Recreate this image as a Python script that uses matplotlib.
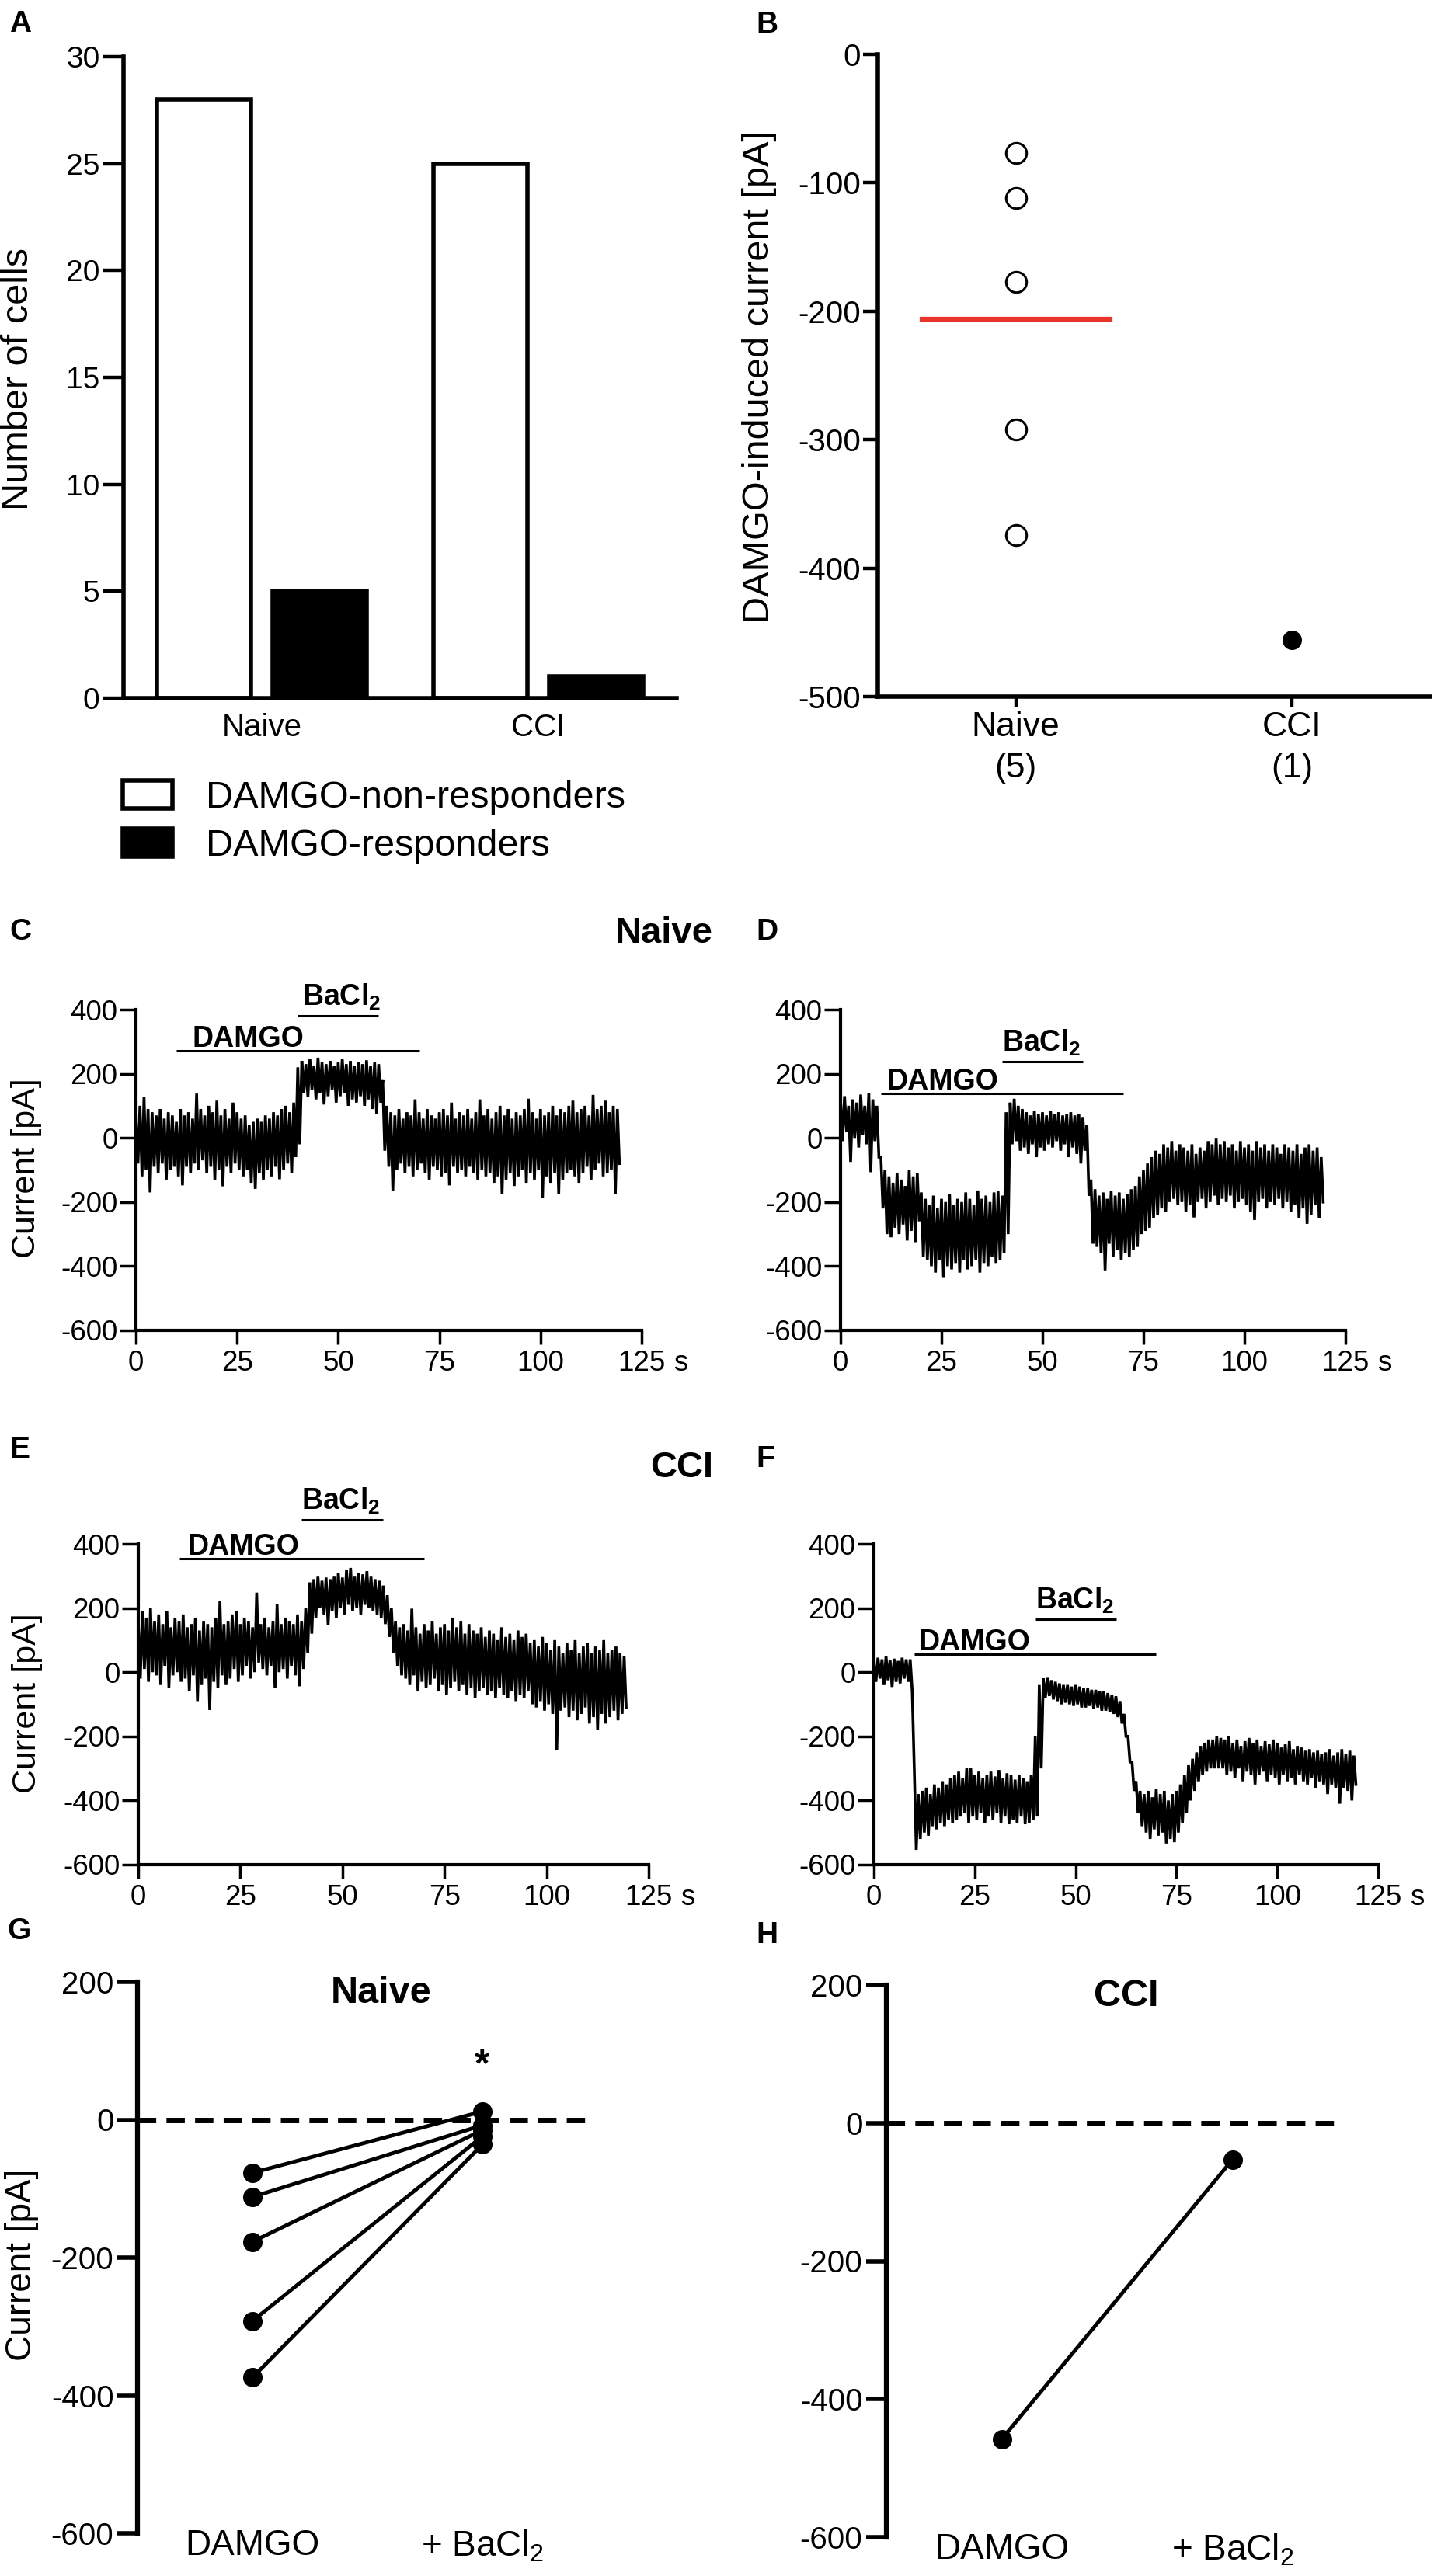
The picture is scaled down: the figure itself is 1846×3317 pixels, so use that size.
import matplotlib
matplotlib.use('Agg')
import matplotlib.pyplot as plt
import numpy as np
from matplotlib.patches import Patch

plt.rcParams['font.family'] = ['Liberation Sans', 'DejaVu Sans']
plt.rcParams['mathtext.fontset'] = 'custom'
plt.rcParams['mathtext.rm'] = 'Liberation Sans'
plt.rcParams['mathtext.bf'] = 'Liberation Sans:bold'
plt.rcParams['mathtext.it'] = 'Liberation Sans:italic'
plt.rcParams['axes.unicode_minus'] = False

# ---------------- DATA ----------------
# Panel A
groups_A = ['Naive', 'CCI']
non_responders = [28, 25]
responders = [5, 1]
legend_labels = ['DAMGO-non-responders', 'DAMGO-responders']

# Panel B
groups_B = ['Naive\n(5)', 'CCI\n(1)']
naive_damgo = [-77, -112, -177, -292, -374]
cci_damgo = [-456]

# Panels G / H
conditions = ['DAMGO', '+ BaCl$_2$']
naive_pair_damgo = [-77, -112, -177, -292, -374]
naive_pair_bacl = [12, -8, -15, -24, -36]
cci_pair_damgo = [-458]
cci_pair_bacl = [-53]

# Traces (per-second upper / lower excursions of the current, pA)
C_hi = [60, 100, 128, 90, 80, 70, 90, 60, 80, 70,
        50, 90, 70, 80, 60, 138, 90, 70, 100, 80,
        116, 70, 90, 60, 110, 80, 60, 70, 40, 50,
        60, 50, 70, 60, 80, 70, 90, 100, 80, 110,
        220, 240, 230, 245, 225, 250, 235, 230, 240, 225,
        235, 246, 230, 240, 225, 235, 230, 242, 225, 235,
        230, 180, 100, 80, 70, 90, 60, 80, 70, 120,
        80, 60, 90, 70, 60, 80, 90, 70, 110, 60,
        80, 70, 90, 60, 80, 120, 70, 90, 60, 80,
        100, 70, 90, 60, 80, 70, 90, 122, 80, 60,
        90, 70, 80, 100, 70, 90, 80, 100, 116, 80,
        90, 100, 70, 134, 90, 100, 116, 80, 100, 90]
C_lo = [-80, -120, -100, -170, -90, -110, -80, -130, -100, -90,
        -120, -148, -90, -110, -80, -100, -70, -110, -90, -130,
        -100, -151, -90, -110, -80, -100, -120, -100, -140, -159,
        -110, -130, -100, -120, -90, -129, -100, -80, -110, -60,
        -20, 140, 128, 150, 120, 140, 104, 130, 150, 110,
        130, 140, 100, 120, 110, 130, 100, 120, 90, 75,
        110, -40, -90, -164, -100, -80, -110, -90, -120, -100,
        -80, -110, -130, -90, -100, -120, -110, -148, -90, -110,
        -100, -120, -90, -110, -130, -100, -120, -110, -140, -120,
        -175, -130, -110, -150, -120, -100, -140, -110, -130, -100,
        -188, -120, -140, -110, -174, -130, -110, -100, -120, -140,
        -110, -90, -130, -100, -80, -120, -110, -100, -175, -80]

D_hi = [120, 130, 100, 120, 110, 135, 100, 140, 120, 100,
        -60, -100, -120, -140, -110, -130, -150, -100, -120, -110,
        -170, -190, -210, -180, -220, -190, -200, -176, -210, -190,
        -200, -170, -190, -210, -164, -190, -180, -200, -170, -165,
        -180, 80, 110, 122, 100, 90, 80, 70, 85, 75,
        80, 70, 85, 75, 80, 70, 75, 80, 70, 75,
        65, 40, -130, -160, -180, -170, -190, -165, -180, -170,
        -190, -175, -160, -150, -120, -100, -80, -60, -40, -50,
        -20, -30, -10, -40, -20, -30, -40, -20, -50, -30,
        -40, -10, -20, 0, -20, -10, -30, -20, -40, -10,
        -30, -20, -40, -10, -30, -20, -40, -20, -30, -50,
        -20, -30, -40, -20, -50, -30, -20, -40, -30, -60]
D_lo = [-10, 20, -75, 0, -30, 10, -20, -107, -10, -60,
        -220, -300, -310, -280, -300, -270, -320, -290, -325, -260,
        -370, -380, -400, -420, -380, -434, -400, -410, -390, -420,
        -380, -410, -400, -380, -420, -390, -400, -370, -390, -380,
        -360, -300, -20, -10, -40, -30, -50, -20, -60, -30,
        -40, -20, -30, -10, -40, -20, -60, -30, -50, -80,
        -40, -180, -330, -340, -360, -413, -330, -370, -350, -380,
        -360, -370, -350, -340, -300, -290, -280, -250, -240, -220,
        -230, -200, -190, -210, -200, -230, -210, -248, -200, -190,
        -220, -200, -180, -210, -190, -200, -180, -220, -200, -190,
        -210, -230, -256, -200, -190, -220, -200, -210, -190, -220,
        -200, -230, -210, -250, -220, -268, -240, -210, -250, -200]

E_hi = [150, 190, 170, 200, 160, 180, 150, 190, 140, 170,
        160, 180, 140, 150, 170, 130, 160, 150, 140, 170,
        222, 150, 160, 180, 190, 150, 170, 160, 140, 248,
        150, 170, 140, 160, 212, 150, 170, 160, 150, 180,
        160, 200, 280, 290, 300, 285, 295, 290, 300, 310,
        295, 320, 325, 300, 310, 305, 315, 300, 290, 285,
        270, 240, 200, 160, 140, 150, 130, 198, 140, 120,
        150, 130, 160, 120, 140, 150, 130, 170, 140, 160,
        120, 150, 130, 120, 140, 110, 130, 120, 100, 140,
        110, 120, 100, 130, 110, 120, 90, 100, 80, 110,
        90, 70, 100, 80, 60, 90, 70, 100, 60, 80,
        90, 60, 80, 70, 100, 60, 70, 80, 60, 50]
E_lo = [-20, 10, -30, 0, -10, -40, 20, -48, -10, 0,
        -30, -20, -60, -10, -90, -40, -20, -118, -30, -50,
        -10, -40, -20, 10, -30, -10, 20, -20, 0, 30,
        10, -10, 20, -50, 0, 10, -20, 20, -10, -44,
        10, 60, 120, 170, 200, 180, 148, 190, 170, 200,
        180, 210, 190, 200, 180, 210, 200, 190, 180, 170,
        150, 110, 60, 20, -10, -20, -40, -10, -60, -30,
        -50, -40, -20, -60, -40, -70, -50, -30, -60, -40,
        -70, -50, -80, -60, -50, -70, -60, -80, -50, -70,
        -80, -60, -90, -70, -80, -60, -100, -110, -90, -120,
        -100, -130, -242, -120, -110, -140, -120, -150, -130, -110,
        -160, -140, -179, -130, -160, -140, -120, -150, -130, -110]

F_hi = [30, 45, 40, 50, 38, 42, 35, 45, 40, 40,
        -300, -380, -370, -360, -380, -350, -360, -340, -350, -330,
        -320, -310, -330, -300, -298, -320, -310, -330, -320, -310,
        -325, -305, -330, -315, -320, -335, -320, -330, -340, -320,
        -200, -40, -20, -18, -25, -30, -35, -40, -40, -45,
        -40, -45, -50, -50, -55, -55, -60, -60, -65, -70,
        -75, -90, -130, -200, -280, -340, -370, -380, -370, -390,
        -365, -380, -370, -400, -380, -370, -350, -320, -290, -270,
        -250, -230, -220, -210, -210, -200, -205, -210, -200, -220,
        -210, -230, -215, -205, -220, -210, -230, -215, -225, -210,
        -220, -235, -225, -215, -240, -230, -235, -245, -240, -250,
        -245, -255, -250, -240, -260, -250, -240, -255, -245, -260]
F_lo = [-30, -20, -40, -25, -46, -30, -35, -20, -30, -60,
        -554, -520, -500, -510, -480, -490, -470, -480, -460, -470,
        -460, -450, -440, -470, -450, -460, -440, -470, -450, -460,
        -440, -470, -450, -474, -460, -470, -450, -474, -470, -460,
        -450, -300, -80, -74, -85, -90, -100, -95, -100, -105,
        -100, -110, -110, -105, -115, -110, -120, -120, -125, -130,
        -140, -160, -200, -280, -370, -440, -480, -500, -520, -490,
        -510, -500, -534, -520, -530, -500, -470, -440, -400, -370,
        -340, -320, -310, -300, -300, -300, -300, -320, -310, -330,
        -300, -340, -310, -320, -350, -320, -310, -340, -320, -330,
        -350, -320, -340, -330, -350, -320, -340, -350, -330, -360,
        -340, -350, -380, -350, -360, -410, -360, -370, -400, -350]

damgo_period = [10, 70]
bacl_period = [40, 60]
trace_xticks = [0, 25, 50, 75, 100, 125]
trace_yticks = [-600, -400, -200, 0, 200, 400]

# ---------------- FIGURE ----------------
W, H = 1846, 3317
fig = plt.figure(figsize=(W / 100, H / 100), dpi=100)


def add_ax(l, t, r, b):
    return fig.add_axes([l / W, 1 - b / H, (r - l) / W, (b - t) / H])


def style(ax, lw, ticklen, tickw, fs, pad, bottom=True):
    ax.spines['top'].set_visible(False)
    ax.spines['right'].set_visible(False)
    ax.spines['left'].set_linewidth(lw)
    if bottom:
        ax.spines['bottom'].set_linewidth(lw)
    else:
        ax.spines['bottom'].set_visible(False)
    ax.tick_params(axis='y', direction='out', length=ticklen, width=tickw,
                   labelsize=fs, pad=pad)


def ftext(x, y, s, **kw):
    fig.text(x / W, 1 - y / H, s, **kw)


# panel letters
for letter, (px, py) in {'A': (12, 41), 'B': (973, 42), 'C': (12, 1210),
                         'D': (973, 1210), 'E': (12, 1877), 'F': (973, 1889),
                         'G': (9, 2497), 'H': (973, 2502)}.items():
    ftext(px, py, letter, fontsize=28, fontweight='bold', ha='left', va='baseline')

# ---- Panel A ----
axA = add_ax(159, 73, 871, 899)
xA = np.arange(len(groups_A))
axA.bar(xA - 0.21, non_responders, width=0.34, facecolor='white',
        edgecolor='black', linewidth=4)
axA.bar(xA + 0.21, responders, width=0.34, facecolor='black',
        edgecolor='black', linewidth=4)
axA.set_xlim(-0.5, 1.5)
axA.set_ylim(0, 30)
axA.set_yticks(range(0, 31, 5))
style(axA, 4, 19, 3.2, 28, 3)
axA.set_xticks(xA)
axA.set_xticklabels(groups_A)
axA.tick_params(axis='x', length=0, labelsize=29, pad=14)
ftext(24, 488, 'Number of cells', rotation=90, fontsize=35, ha='center', va='center')

handles = [Patch(facecolor='white', edgecolor='black', linewidth=4),
           Patch(facecolor='black', edgecolor='black', linewidth=4)]
fig.legend(handles, legend_labels, loc='upper left',
           bbox_to_anchor=(158 / W, 1 - 1005 / H), frameon=False, fontsize=35,
           handlelength=1.32, handleheight=0.76, handletextpad=0.88,
           labelspacing=0.35, borderpad=0, borderaxespad=0)

# ---- Panel B ----
axB = add_ax(1130, 70, 1841, 897)
axB.plot(np.zeros(len(naive_damgo)), naive_damgo, 'o', ms=19, mfc='white',
         mec='black', mew=2.2, linestyle='none')
axB.plot(np.ones(len(cci_damgo)), cci_damgo, 'o', ms=17, mfc='black',
         mec='black', linestyle='none')
m = np.mean(naive_damgo)
axB.plot([-0.34, 0.34], [m, m], color='#e8342b', lw=4.5)
axB.set_xlim(-0.5, 1.5)
axB.set_ylim(-500, 0)
axB.set_yticks(range(-500, 1, 100))
style(axB, 4, 14, 3.2, 29, 2)
axB.set_xticks([0, 1])
axB.set_xticklabels(groups_B)
axB.tick_params(axis='x', direction='out', length=10, width=3.2, labelsize=32, pad=4)
for lbl in axB.get_xticklabels():
    lbl.set_linespacing(1.35)
ftext(977, 486, 'DAMGO-induced current [pA]', rotation=90, fontsize=35,
      ha='center', va='center')


# ---- Trace panels ----
def trace(box, hi, lo, damgo_y, bacl_y, damgo_tx, bacl_tx, ylab_xy=None):
    ax = add_ax(*box)
    t = np.arange(len(hi), dtype=float)
    xs = np.empty(2 * len(hi))
    ys = np.empty(2 * len(hi))
    xs[0::2] = t
    xs[1::2] = t + 0.5
    ys[0::2] = hi
    ys[1::2] = lo
    ax.plot(xs, ys, color='black', lw=2.6, solid_joinstyle='miter')
    ax.set_xlim(0, 125)
    ax.set_ylim(-600, 400)
    ax.set_yticks(trace_yticks)
    ax.set_xticks(trace_xticks)
    ax.set_xticklabels([str(v) for v in trace_xticks])
    style(ax, 3, 15, 2.5, 26.5, 2)
    ax.tick_params(axis='x', direction='out', length=13, width=2.5,
                   labelsize=26.5, pad=5)
    ax.annotate('s', xy=(125, 0), xycoords=('data', 'axes fraction'),
                xytext=(29.5, -18), textcoords='offset points', ha='left',
                va='top', fontsize=26.5)
    ax.plot(damgo_period, [damgo_y, damgo_y], color='black', lw=2.2,
            clip_on=False, solid_capstyle='butt')
    ax.plot(bacl_period, [bacl_y, bacl_y], color='black', lw=2.2,
            clip_on=False, solid_capstyle='butt')
    ax.text(damgo_tx, damgo_y + 12, 'DAMGO', fontsize=27, fontweight='bold',
            ha='left', va='baseline', clip_on=False)
    ax.text(bacl_tx, bacl_y + 33, r'$\mathbf{BaCl_2}$', fontsize=27,
            ha='left', va='baseline', clip_on=False)
    if ylab_xy is not None:
        ftext(ylab_xy[0], ylab_xy[1], 'Current [pA]', rotation=90, fontsize=31,
              ha='center', va='center')
    return ax


trace((175, 1300, 826, 1713), C_hi, C_lo, 272, 381, 14, 41, (34, 1504))
trace((1082, 1300, 1732, 1713), D_hi, D_lo, 139, 238, 11.5, 40)
trace((178, 1988, 835, 2401), E_hi, E_lo, 354, 475, 12, 40, (35, 2193))
trace((1125, 1988, 1774, 2401), F_hi, F_lo, 56, 165, 11, 40)

ftext(918, 1202, 'Naive', fontsize=34, fontweight='bold', ha='right', va='center')
ftext(918, 1890, 'CCI', fontsize=34, fontweight='bold', ha='right', va='center')


# ---- Panels G / H ----
def paired(box, d_vals, b_vals, title, title_x, dash_end, star=False, ylab=None):
    ax = add_ax(*box)
    ax.plot([-0.5, dash_end], [0, 0], color='black', lw=5, dashes=(3.4, 1.9),
            solid_capstyle='butt', dash_capstyle='butt')
    for d, b in zip(d_vals, b_vals):
        ax.plot([0, 1], [d, b], color='black', lw=3.5, marker='o', ms=17,
                clip_on=False)
    ax.set_xlim(-0.5, 1.5)
    ax.set_ylim(-600, 200)
    ax.set_yticks([-600, -400, -200, 0, 200])
    style(ax, 4.5, 19, 4, 29, 3, bottom=False)
    ax.set_xticks([0, 1])
    ax.set_xticklabels(conditions)
    ax.tick_params(axis='x', length=0, labelsize=33, pad=-4)
    ax.text(title_x, 184, title, fontsize=35, fontweight='bold', ha='center',
            va='center')
    if star:
        ax.text(1, 78, '*', fontsize=36, fontweight='bold', ha='center',
                va='center')
    if ylab is not None:
        ftext(ylab[0], ylab[1], 'Current [pA]', rotation=90, fontsize=33,
              ha='center', va='center')
    return ax


paired((177, 2552, 769, 3262), naive_pair_damgo, naive_pair_bacl, 'Naive',
       0.56, 1.466, star=True, ylab=(28, 2916))
paired((1141, 2556, 1735, 3267), cci_pair_damgo, cci_pair_bacl, 'CCI',
       0.54, 1.453)

fig.savefig('out.png', dpi=100)
